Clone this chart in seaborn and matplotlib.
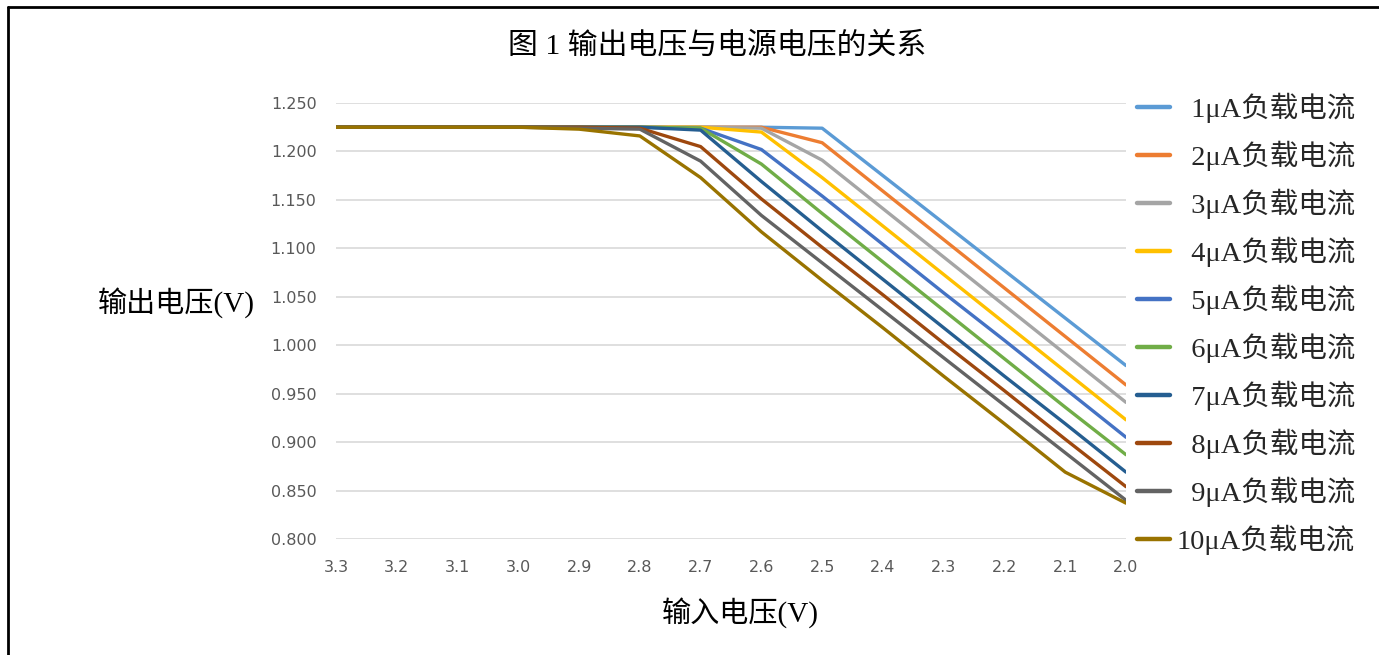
import numpy as np
import pandas as pd
import matplotlib
matplotlib.use("Agg")
import matplotlib.pyplot as plt
from matplotlib.lines import Line2D
import seaborn as sns

# ---------------- data ----------------
x_vals = [3.3, 3.2, 3.1, 3.0, 2.9, 2.8, 2.7, 2.6, 2.5, 2.4, 2.3, 2.2, 2.1, 2.0]
x_ticklabels = ["3.3", "3.2", "3.1", "3.0", "2.9", "2.8", "2.7", "2.6", "2.5",
                "2.4", "2.3", "2.2", "2.1", "2.0"]
series_names = ["1μA负载电流", "2μA负载电流", "3μA负载电流", "4μA负载电流", "5μA负载电流",
                "6μA负载电流", "7μA负载电流", "8μA负载电流", "9μA负载电流", "10μA负载电流"]
s1 = [1.225, 1.225, 1.225, 1.225, 1.225, 1.225, 1.225, 1.225, 1.224, 1.175, 1.126, 1.077, 1.028, 0.979]
s2 = [1.225, 1.225, 1.225, 1.225, 1.225, 1.225, 1.225, 1.225, 1.209, 1.159, 1.109, 1.059, 1.009, 0.959]
s3 = [1.225, 1.225, 1.225, 1.225, 1.225, 1.225, 1.225, 1.224, 1.191, 1.141, 1.091, 1.041, 0.991, 0.941]
s4 = [1.225, 1.225, 1.225, 1.225, 1.225, 1.225, 1.225, 1.220, 1.173, 1.123, 1.073, 1.023, 0.973, 0.923]
s5 = [1.225, 1.225, 1.225, 1.225, 1.225, 1.225, 1.224, 1.202, 1.154, 1.104, 1.054, 1.005, 0.955, 0.905]
s6 = [1.225, 1.225, 1.225, 1.225, 1.225, 1.225, 1.224, 1.187, 1.136, 1.086, 1.036, 0.986, 0.936, 0.887]
s7 = [1.225, 1.225, 1.225, 1.225, 1.225, 1.225, 1.222, 1.169, 1.118, 1.068, 1.018, 0.968, 0.919, 0.869]
s8 = [1.225, 1.225, 1.225, 1.225, 1.225, 1.224, 1.205, 1.151, 1.101, 1.052, 1.002, 0.953, 0.903, 0.854]
s9 = [1.225, 1.225, 1.225, 1.225, 1.224, 1.223, 1.190, 1.134, 1.085, 1.036, 0.987, 0.938, 0.889, 0.840]
s10 = [1.225, 1.225, 1.225, 1.225, 1.223, 1.216, 1.173, 1.117, 1.067, 1.018, 0.968, 0.919, 0.869, 0.837]
y_ticks = [0.800, 0.850, 0.900, 0.950, 1.000, 1.050, 1.100, 1.150, 1.200, 1.250]
colors = ["#5B9BD5", "#ED7D31", "#A5A5A5", "#FFC000", "#4472C4",
          "#70AD47", "#255E91", "#9E480E", "#636363", "#997300"]

all_series = [s1, s2, s3, s4, s5, s6, s7, s8, s9, s10]
df = pd.DataFrame({
    "x": np.tile(x_vals, len(series_names)),
    "y": np.concatenate(all_series),
    "series": np.repeat(series_names, len(x_vals)),
})

# ---------------- style ----------------
sns.set_theme(style="white")
plt.rcParams["font.family"] = ["Liberation Serif", "Noto Sans CJK SC", "DejaVu Sans"]

W, H = 1379, 655
fig = plt.figure(figsize=(W / 100, H / 100), dpi=100)
left, right, top, bottom = 336, 1126, 103, 539
ax = fig.add_axes([left / W, 1 - bottom / H, (right - left) / W, (bottom - top) / H])

sns.lineplot(data=df, x="x", y="y", hue="series", hue_order=series_names,
             palette=colors, linewidth=2.4, ax=ax, legend=False, sort=False)

ax.set_xlim(3.3, 2.0)
ax.set_ylim(0.8, 1.25)
ax.set_xticks(x_vals)
ax.set_xticklabels(x_ticklabels)
ax.set_yticks(y_ticks)
ax.set_yticklabels([f"{v:.3f}" for v in y_ticks])
for lab in ax.get_xticklabels() + ax.get_yticklabels():
    lab.set_family(["DejaVu Sans"])
    lab.set_fontsize(11.5)
    lab.set_color("#595959")
ax.tick_params(axis="both", length=0)
ax.tick_params(axis="y", pad=14)
ax.tick_params(axis="x", pad=15)
ax.yaxis.grid(True, color="#D9D9D9", linewidth=1.2)
ax.xaxis.grid(False)
for sp in ax.spines.values():
    sp.set_visible(False)
ax.set_xlabel("")
ax.set_ylabel("")
ax.set_axisbelow(True)

# labels
fig.text(717 / W, 1 - 46 / H, "图 1 输出电压与电源电压的关系", ha="center", va="center",
         fontsize=21.5, color="black")
fig.text(176 / W, 1 - 303 / H, "输出电压(V)", ha="center", va="center", fontsize=21, color="black")
fig.text(740 / W, 1 - 613 / H, "输入电压(V)", ha="center", va="center", fontsize=21, color="black")

# legend (single-digit labels padded so texts right-align as in the reference)
handles = [Line2D([0], [0], color=c, lw=3.2) for c in colors]
leg_labels = [("\u2002" + n) if len(n) < 8 else n for n in series_names]
leg = fig.legend(handles, leg_labels, loc="upper left",
                 bbox_to_anchor=(1137 / W, 1 - 93 / H), frameon=False,
                 fontsize=20.5, handlelength=1.15, handletextpad=0.25,
                 labelspacing=0.62, borderaxespad=0, borderpad=0)

# frame (top and left border)
fig.add_artist(Line2D([8 / W, 1], [1 - 7 / H, 1 - 7 / H], transform=fig.transFigure,
                      color="black", lw=2))
fig.add_artist(Line2D([8 / W, 8 / W], [0, 1 - 7 / H], transform=fig.transFigure,
                      color="black", lw=2))

fig.savefig("out.png", dpi=100)
